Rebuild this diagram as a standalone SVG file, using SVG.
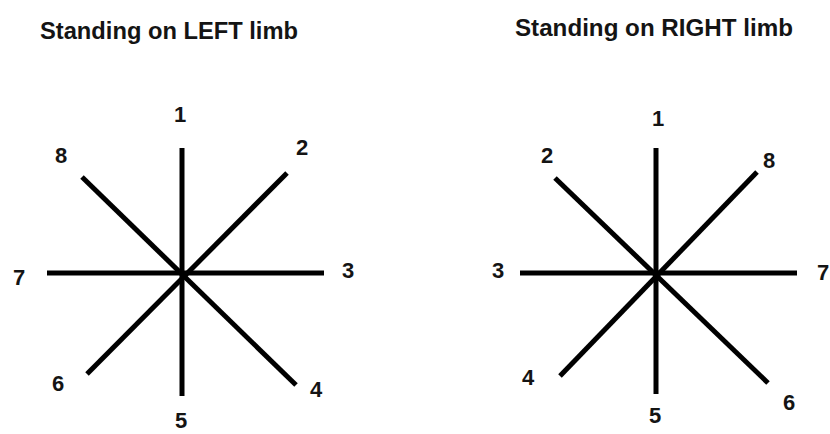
<svg xmlns="http://www.w3.org/2000/svg" width="830" height="434" viewBox="0 0 830 434">
<style>
.t{font-family:"Liberation Sans",Arial,sans-serif;font-weight:bold;fill:#141414}
.title{font-size:24px}
.n{font-size:22px;text-anchor:middle}
.ln{stroke:#000;stroke-width:5;stroke-linecap:butt;fill:none}
</style>
<rect width="830" height="434" fill="#fff"/>
<g id="title-left"><text class="t title" x="40" y="39" textLength="258" lengthAdjust="spacingAndGlyphs">Standing on LEFT limb</text></g>
<g id="title-right"><text class="t title" x="515" y="36" textLength="278" lengthAdjust="spacingAndGlyphs">Standing on RIGHT limb</text></g>
<g id="connectors">
  <g id="star-left">
    <line class="ln" x1="182" y1="148" x2="182" y2="396"/>
    <line class="ln" x1="47" y1="273" x2="324" y2="273"/>
    <line class="ln" x1="82" y1="177" x2="296" y2="385"/>
    <line class="ln" x1="287" y1="173" x2="87" y2="374"/>
  </g>
  <g id="star-right">
    <line class="ln" x1="656" y1="148" x2="656" y2="394"/>
    <line class="ln" x1="520" y1="273" x2="797" y2="273"/>
    <line class="ln" x1="555" y1="178" x2="768" y2="383"/>
    <line class="ln" x1="757" y1="172" x2="560" y2="376"/>
  </g>
</g>
<g id="left-1"><text class="t n" x="180" y="122">1</text></g>
<g id="left-2"><text class="t n" x="302" y="155">2</text></g>
<g id="left-3"><text class="t n" x="348" y="278">3</text></g>
<g id="left-4"><text class="t n" x="316" y="397">4</text></g>
<g id="left-5"><text class="t n" x="181" y="428">5</text></g>
<g id="left-6"><text class="t n" x="58" y="391">6</text></g>
<g id="left-7"><text class="t n" x="19" y="285">7</text></g>
<g id="left-8"><text class="t n" x="61" y="163">8</text></g>
<g id="right-1"><text class="t n" x="658" y="126">1</text></g>
<g id="right-2"><text class="t n" x="547" y="163">2</text></g>
<g id="right-3"><text class="t n" x="498" y="278">3</text></g>
<g id="right-4"><text class="t n" x="528" y="385">4</text></g>
<g id="right-5"><text class="t n" x="655" y="423">5</text></g>
<g id="right-6"><text class="t n" x="789" y="410">6</text></g>
<g id="right-7"><text class="t n" x="823" y="280">7</text></g>
<g id="right-8"><text class="t n" x="769" y="168">8</text></g>
</svg>
